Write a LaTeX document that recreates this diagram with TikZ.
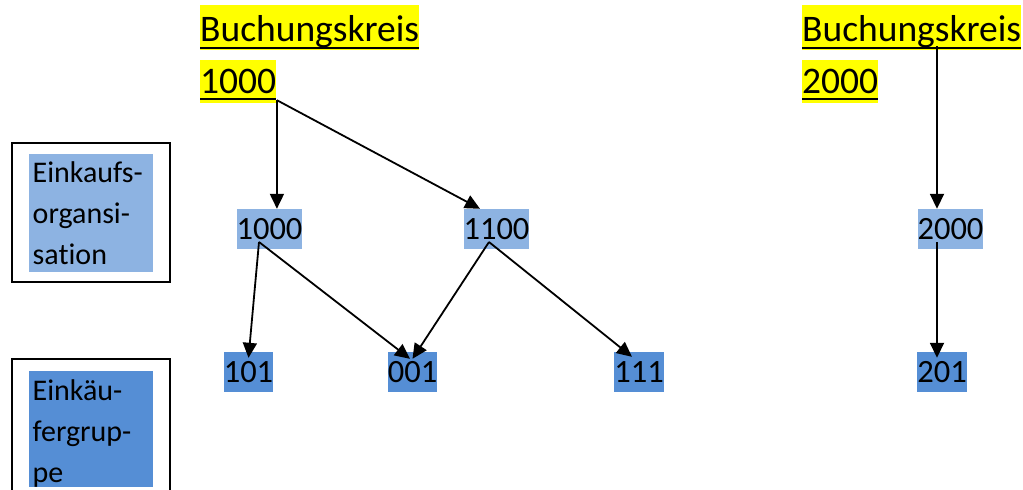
\documentclass[tikz,border=0pt]{standalone}
\usepackage{fontspec}
\setmainfont[Ligatures=NoCommon]{Carlito}
\usetikzlibrary{arrows.meta}
\definecolor{orgblue}{HTML}{8DB3E2}
\definecolor{grpblue}{HTML}{558ED5}
\definecolor{hl}{HTML}{FFFF00}
\begin{document}
\begin{tikzpicture}[x=1pt,y=-1pt,
  hltext/.style={fill=hl, inner sep=0pt, anchor=base west,
    font=\fontsize{37.5}{44}\selectfont},
  uline/.style={line width=2.2pt},
  orgnode/.style={fill=orgblue, inner sep=0pt, minimum width=65pt,
    minimum height=40pt, font=\fontsize{32.5}{38}\selectfont},
  grpnode/.style={fill=grpblue, inner sep=0pt, minimum width=49pt,
    minimum height=40pt, font=\fontsize{32.5}{38}\selectfont},
  legframe/.style={draw, line width=2pt, inner sep=0pt, minimum width=158pt},
  legfill/.style={inner sep=0pt, minimum width=124pt},
  legtext/.style={inner sep=0pt, anchor=base west,
    font=\fontsize{30}{41}\selectfont},
  arr/.style={line width=1.8pt, -{Triangle[length=15pt,width=14pt]}}]
\clip (0,0) rectangle (1023,490);

% company codes (highlighted, underlined)
\node[hltext, text height=36pt, text depth=9pt] (bk1a) at (200,41) {Buchungskreis};
\node[hltext, text height=33pt, text depth=10pt] (bk1b) at (200,93) {1000};
\node[hltext, text height=36pt, text depth=9pt] (bk2a) at (802,41) {Buchungskreis};
\node[hltext, text height=33pt, text depth=10pt] (bk2b) at (802,93) {2000};
\draw[uline] ([yshift=2pt]bk1a.south west) -- ([yshift=2pt]bk1a.south east);
\draw[uline] ([yshift=4pt]bk1b.south west) -- ([yshift=4pt]bk1b.south east);
\draw[uline] ([yshift=2pt]bk2a.south west) -- ([yshift=2pt]bk2a.south east);
\draw[uline] ([yshift=4pt]bk2b.south west) -- ([yshift=4pt]bk2b.south east);

% legend
\node[legframe, minimum height=139pt] (lf1) at (91,212.5) {};
\node[legfill, fill=orgblue, minimum height=118pt] (lb1) at (91,213) {};
\node[legtext] (lt1a) at (32.5,182) {Einkaufs-};
\node[legtext] (lt1b) at (32.5,223) {organsi-};
\node[legtext] (lt1c) at (32.5,264) {sation};

\node[legframe, minimum height=160pt] (lf2) at (91,439) {};
\node[legfill, fill=grpblue, minimum height=116pt] (lb2) at (91,429) {};
\node[legtext] (lt2a) at (32.5,400) {Einkäu-};
\node[legtext] (lt2b) at (32.5,441) {fergrup-};
\node[legtext] (lt2c) at (32.5,482) {pe};

% purchasing organisations
\node[orgnode] (o1000) at (269.5,229) {1000};
\node[orgnode] (o1100) at (496.5,229) {1100};
\node[orgnode] (o2000) at (950.5,229) {2000};

% purchasing groups
\node[grpnode] (g101) at (248.5,372) {101};
\node[grpnode] (g001) at (412.5,372) {001};
\node[grpnode] (g111) at (639,372) {111};
\node[grpnode] (g201) at (942,372) {201};

% connector end points
\coordinate (u1) at ([xshift=0.5pt,yshift=3pt]bk1b.south east);
\coordinate (u2) at ([xshift=135pt,yshift=4pt]bk2a.south west);
\coordinate (s1) at ([xshift=-10.5pt,yshift=-13pt]o1000.center);
\coordinate (s2) at ([xshift=-7.5pt,yshift=-13pt]o1100.center);
\coordinate (s3) at ([xshift=-13.5pt,yshift=-13pt]o2000.center);
\coordinate (t3) at ([yshift=-6pt]g201.north);

% connectors
\draw[arr] (u1) -- (u1 |- o1000.north);
\draw[arr] (u1) -- ([xshift=-16.5pt]o1100.north);
\draw[arr] (u2) -- (u2 |- o2000.north);
\draw[arr] (s1) -- ([yshift=-6pt]g101.north);
\draw[arr] (s1) -- ([xshift=-2.5pt,yshift=-7pt]g001.north);
\draw[arr] (s2) -- ([yshift=-7pt]g001.north);
\draw[arr] (s2) -- ([xshift=-7pt,yshift=-5pt]g111.north);
\draw[arr] (s3) -- (s3 |- t3);
\end{tikzpicture}
\end{document}
